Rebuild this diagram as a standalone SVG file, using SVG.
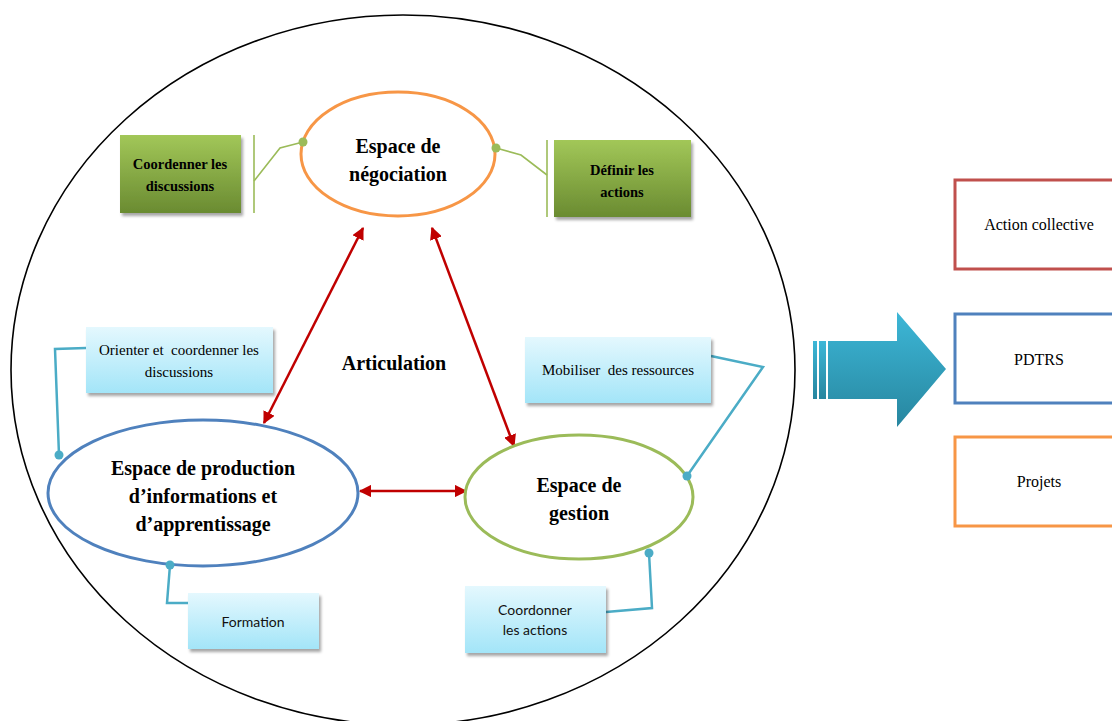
<svg xmlns="http://www.w3.org/2000/svg" width="1112" height="721" viewBox="0 0 1112 721">
<defs>
<linearGradient id="gGreen" x1="0" y1="0" x2="0" y2="1"><stop offset="0" stop-color="#a2c758"/><stop offset="1" stop-color="#6a8b31"/></linearGradient>
<linearGradient id="gCyan" x1="0" y1="0" x2="0" y2="1"><stop offset="0" stop-color="#e4f8fe"/><stop offset="1" stop-color="#a3e5f8"/></linearGradient>
<linearGradient id="gArrow" x1="0" y1="0" x2="0" y2="1"><stop offset="0" stop-color="#3db7d7"/><stop offset="1" stop-color="#27869f"/></linearGradient>
<filter id="sh" x="-10%" y="-10%" width="125%" height="130%"><feDropShadow dx="2" dy="3" stdDeviation="1.5" flood-color="#000" flood-opacity="0.35"/></filter>
<marker id="ar" viewBox="0 0 10 10" refX="9" refY="5" markerWidth="5" markerHeight="5" orient="auto-start-reverse"><path d="M0,0 L10,5 L0,10 z" fill="#c00000"/></marker>
<style>
.big{fill:none;stroke:#000;stroke-width:1.6}
.ell{fill:#fff;stroke-width:3}
.gbox{fill:url(#gGreen);filter:url(#sh)}
.cbox{fill:url(#gCyan);filter:url(#sh)}
.t{font-family:"Liberation Serif","Times New Roman",serif;fill:#000;text-anchor:middle;white-space:pre}
.tb{font-weight:bold}
.s{font-family:Lato,"Open Sans","Liberation Sans",sans-serif;fill:#111;text-anchor:middle}
.red{stroke:#c00000;stroke-width:2.5;fill:none;marker-start:url(#ar);marker-end:url(#ar)}
.gl{stroke:#9bbb59;stroke-width:1.6;fill:none}
.cl{stroke:#4bacc6;stroke-width:2.5;fill:none}
.rb{fill:#fff;stroke-width:3}
</style>
</defs>
<rect width="1112" height="721" fill="#fff"/>
<ellipse class="big" cx="403" cy="370" rx="392" ry="355"/>

<g id="connectors">
<line class="red" x1="363" y1="228" x2="264" y2="423"/>
<line class="red" x1="432" y1="228" x2="514" y2="446"/>
<line class="red" x1="360" y1="491" x2="466" y2="491"/>
<polyline class="gl" points="303,142 280,148 254,181"/>
<line class="gl" x1="254" y1="135" x2="254" y2="213"/>
<polyline class="gl" points="496,148 521,155 547,175"/>
<line class="gl" x1="547" y1="140" x2="547" y2="217"/>
<polyline class="cl" points="59,455 55,349 86,348"/>
<polyline class="cl" points="687,476 763,367 711,356"/>
<polyline class="cl" points="649,553 652,608 606,612"/>
<polyline class="cl" points="170,565 167,603 188,603"/>
</g>

<g id="negociation">
<ellipse class="ell" cx="398" cy="154" rx="97" ry="62" stroke="#f79646"/>
<text class="t tb" x="398" y="153" font-size="20">Espace de</text>
<text class="t tb" x="398" y="181" font-size="20">négociation</text>
<circle cx="303" cy="142" r="4.5" fill="#9bbb59"/>
<circle cx="496" cy="148" r="4.5" fill="#9bbb59"/>
</g>

<g id="coordenner">
<rect class="gbox" x="120" y="135" width="121" height="78"/>
<text class="t tb" x="180" y="169" font-size="14.5">Coordenner les</text>
<text class="t tb" x="180" y="191" font-size="14.5">discussions</text>
</g>

<g id="definir">
<rect class="gbox" x="554" y="140" width="137" height="77"/>
<text class="t tb" x="622" y="175" font-size="14.5">Définir les</text>
<text class="t tb" x="622" y="197" font-size="14.5">actions</text>
</g>

<g id="production">
<ellipse class="ell" cx="203" cy="493" rx="155" ry="73" stroke="#4f81bd"/>
<text class="t tb" x="203" y="475" font-size="20">Espace de production</text>
<text class="t tb" x="203" y="503" font-size="20">d’informations et</text>
<text class="t tb" x="203" y="531" font-size="20">d’apprentissage</text>
<circle cx="59" cy="455" r="4.5" fill="#4bacc6"/>
<circle cx="170" cy="565" r="4.5" fill="#4bacc6"/>
</g>

<g id="gestion">
<ellipse class="ell" cx="579" cy="497" rx="114" ry="62" stroke="#9bbb59"/>
<text class="t tb" x="579" y="492" font-size="20">Espace de</text>
<text class="t tb" x="579" y="520" font-size="20">gestion</text>
<circle cx="687" cy="476" r="4.5" fill="#4bacc6"/>
<circle cx="649" cy="553" r="4.5" fill="#4bacc6"/>
</g>

<g id="articulation">
<text class="t tb" x="394" y="370" font-size="20">Articulation</text>
</g>

<g id="orienter">
<rect class="cbox" x="86" y="327" width="187" height="66"/>
<text class="t" x="179" y="355" font-size="15">Orienter et  coordenner les</text>
<text class="t" x="179" y="377" font-size="15">discussions</text>
</g>

<g id="mobiliser">
<rect class="cbox" x="525" y="337" width="186" height="66"/>
<text class="t" x="618" y="375" font-size="15">Mobiliser  des ressources</text>
</g>

<g id="coordonner">
<rect class="cbox" x="465" y="586" width="141" height="67"/>
<text class="s" x="535" y="615" font-size="14">Coordonner</text>
<text class="s" x="535" y="635" font-size="14">les actions</text>
</g>

<g id="formation">
<rect class="cbox" x="188" y="593" width="131" height="56"/>
<text class="s" x="253" y="627" font-size="14">Formation</text>
</g>

<g id="bigarrow">
<rect x="813" y="341" width="4" height="58" fill="url(#gArrow)"/>
<rect x="819" y="341" width="7" height="58" fill="url(#gArrow)"/>
<path d="M828,341 L897,341 L897,312 L946,369 L897,427 L897,399 L828,399 z" fill="url(#gArrow)"/>
</g>

<g id="action-collective">
<rect class="rb" x="955" y="180" width="170" height="89" stroke="#c0504d"/>
<text class="t" x="1039" y="230" font-size="16">Action collective</text>
</g>
<g id="pdtrs">
<rect class="rb" x="955" y="314" width="170" height="89" stroke="#4f81bd"/>
<text class="t" x="1039" y="365" font-size="16">PDTRS</text>
</g>
<g id="projets">
<rect class="rb" x="955" y="437" width="170" height="89" stroke="#f79646"/>
<text class="t" x="1039" y="487" font-size="16">Projets</text>
</g>
</svg>
